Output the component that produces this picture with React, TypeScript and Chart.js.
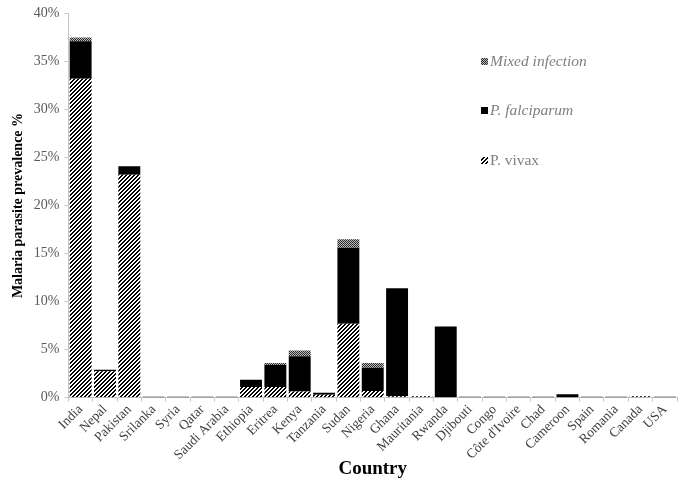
import React, { useEffect, useRef } from "react";
import { Chart, registerables } from "chart.js";

Chart.register(...registerables);

const countries = [
  "India", "Nepal", "Pakistan", "Srilanka", "Syria", "Qatar", "Saudi Arabia",
  "Ethiopia", "Eritrea", "Kenya", "Tanzania", "Sudan", "Nigeria", "Ghana",
  "Mauritania", "Rwanda", "Djibouti", "Congo", "Côte d'Ivoire", "Chad",
  "Cameroon", "Spain", "Romania", "Canada", "USA",
];

const vivax = [33.2, 2.75, 23.2, 0, 0, 0, 0, 1.1, 1.1, 0.65, 0.3, 7.7, 0.7, 0.15, 0.15, 0, 0, 0, 0, 0, 0, 0, 0, 0.15, 0];
const falciparum = [3.9, 0.15, 0.9, 0.1, 0.1, 0.1, 0.1, 0.75, 2.3, 3.65, 0.2, 7.9, 2.4, 11.25, 0, 7.4, 0.1, 0.1, 0.1, 0.1, 0.35, 0.1, 0.1, 0, 0.1];
const mixed = [0.4, 0, 0, 0, 0, 0, 0, 0, 0.2, 0.6, 0, 0.9, 0.5, 0, 0, 0, 0, 0, 0, 0, 0, 0, 0, 0, 0];

const yTicks = [0, 5, 10, 15, 20, 25, 30, 35, 40];

function makePattern(kind: "vivax" | "mixed"): CanvasPattern | string {
  const c = document.createElement("canvas");
  c.width = 4;
  c.height = 4;
  const ctx = c.getContext("2d");
  if (!ctx) return "#000";
  const img = ctx.createImageData(4, 4);
  for (let y = 0; y < 4; y++) {
    for (let x = 0; x < 4; x++) {
      const i = (y * 4 + x) * 4;
      let v = 255;
      if (kind === "vivax") {
        v = (x + y) % 4 < 2 ? 0 : 255;
      } else {
        v = (x + y) % 2 === 0 ? 40 : 190;
      }
      img.data[i] = v;
      img.data[i + 1] = v;
      img.data[i + 2] = v;
      img.data[i + 3] = 255;
    }
  }
  ctx.putImageData(img, 0, 0);
  const p = ctx.createPattern(c, "repeat");
  return p || "#000";
}

export default function App() {
  const ref = useRef<HTMLCanvasElement>(null);

  useEffect(() => {
    if (!ref.current) return;
    const vivaxPat = makePattern("vivax");
    const mixedPat = makePattern("mixed");

    const legendPlugin = {
      id: "customLegend",
      afterDraw(chart: any) {
        const ctx = chart.ctx;
        const items = [
          { label: "Mixed infection", fill: mixedPat, italic: true, y: 62 },
          { label: "P. falciparum", fill: "#000", italic: true, y: 111 },
          { label: "P. vivax", fill: vivaxPat, italic: false, y: 161 },
        ];
        ctx.save();
        for (const it of items) {
          ctx.fillStyle = it.fill as any;
          ctx.fillRect(481, it.y - 4, 7, 7);
          ctx.fillStyle = "#7f7f7f";
          ctx.font = (it.italic ? "italic " : "") + "15.5px 'Liberation Serif'";
          ctx.textBaseline = "middle";
          ctx.textAlign = "left";
          ctx.fillText(it.label, 490, it.y);
        }
        ctx.restore();
      },
    };

    const chart = new Chart(ref.current, {
      type: "bar",
      data: {
        labels: countries,
        datasets: [
          { label: "P. vivax", data: vivax, backgroundColor: vivaxPat as any, barPercentage: 0.9, categoryPercentage: 1 },
          { label: "P. falciparum", data: falciparum, backgroundColor: "#000", barPercentage: 0.9, categoryPercentage: 1 },
          { label: "Mixed infection", data: mixed, backgroundColor: mixedPat as any, barPercentage: 0.9, categoryPercentage: 1 },
        ],
      },
      options: {
        animation: false,
        responsive: false,
        maintainAspectRatio: false,
        layout: { padding: { top: -4, right: 8, left: 10, bottom: 4 } },
        plugins: {
          legend: { display: false },
          tooltip: { enabled: false },
        },
        scales: {
          x: {
            stacked: true,
            grid: { display: true, drawOnChartArea: false, color: "#c8c8c8", tickLength: 4, offset: true },
            border: { color: "#c8c8c8" },
            ticks: {
              autoSkip: false,
              maxRotation: 45,
              minRotation: 45,
              color: "#404040",
              font: { family: "'Liberation Serif'", size: 13.5 },
              padding: 0,
            },
            title: {
              display: true,
              text: "Country",
              color: "#000",
              font: { family: "'Liberation Serif'", size: 19, weight: "bold" },
              padding: { top: -6, bottom: 0 },
            },
          },
          y: {
            stacked: true,
            min: 0,
            max: 40,
            afterBuildTicks(axis: any) {
              axis.ticks = yTicks.map((v) => ({ value: v }));
            },
            grid: { display: true, drawOnChartArea: false, color: "#c8c8c8", tickLength: 4 },
            border: { color: "#c8c8c8" },
            ticks: {
              color: "#595959",
              font: { family: "'Liberation Serif'", size: 14 },
              callback: (v: any) => v + "%",
              padding: 5,
            },
            title: {
              display: true,
              text: "Malaria parasite prevalence %",
              color: "#000",
              font: { family: "'Liberation Serif'", size: 14, weight: "bold" },
              padding: { top: 0, bottom: 2 },
            },
          },
        },
      },
      plugins: [legendPlugin],
    });
    return () => chart.destroy();
  }, []);

  return (
    <div style={{ position: "fixed", left: 0, top: 0, width: 685, height: 484, background: "#fff" }}>
      <canvas ref={ref} width={685} height={484} style={{ width: 685, height: 484 }} />
    </div>
  );
}
